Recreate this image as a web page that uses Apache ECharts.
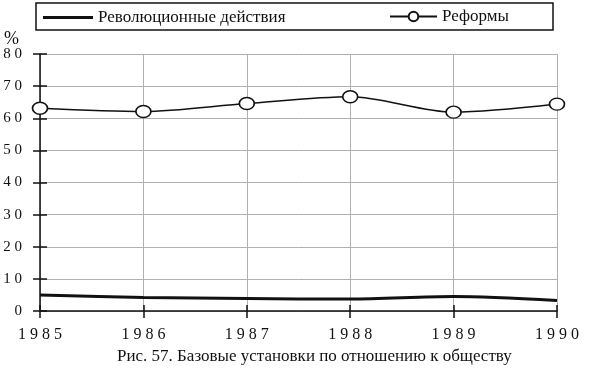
<!DOCTYPE html>
<html><head><meta charset="utf-8">
<script src="https://cdn.jsdelivr.net/npm/echarts@6/dist/echarts.min.js"></script>
<style>html,body{margin:0;padding:0;background:#fff}#c{width:590px;height:372px}</style>
</head><body><div id="c"></div>
<script>
var years = ['1985','1986','1987','1988','1989','1990'];
var revolution = [5.0, 4.2, 3.9, 3.7, 4.5, 3.3];
var reforms = [63.1, 62.1, 64.6, 66.7, 61.9, 64.4];
var seriesNames = ['Революционные действия','Реформы'];
var caption = 'Рис. 57. Базовые установки по отношению к обществу';

function spaced(s){ return String(s).split('').join(' '); }
var FONT = '"Liberation Serif", "DejaVu Serif", serif';
var INK = '#111';
var chart = echarts.init(document.getElementById('c'));
chart.setOption({
  backgroundColor:'#fff',
  animation:false,
  textStyle:{fontFamily:FONT,color:INK},
  grid:{left:40,right:33,top:54,bottom:61},
  graphic:[
    {type:'rect',shape:{x:36,y:3,width:517,height:27},style:{fill:'none',stroke:INK,lineWidth:1.5}},
    {type:'text',left:4,top:30,style:{text:'%',font:'18px '+FONT,fill:INK}},
    {type:'text',left:117,top:348,style:{text:caption,font:'17px '+FONT,fill:INK}}
  ],
  legend:[
    {data:[{name:seriesNames[0],icon:'rect'}],left:43,top:9,itemWidth:50,itemHeight:3,padding:0,
     textStyle:{fontFamily:FONT,fontSize:17,color:INK}},
    {data:[seriesNames[1]],left:389,top:8,itemWidth:47,itemHeight:12,padding:0,
     textStyle:{fontFamily:FONT,fontSize:17,color:INK}}
  ],
  xAxis:[
    {type:'category',data:years,boundaryGap:false,
     axisLine:{lineStyle:{color:INK,width:1.5}},
     axisTick:{show:true,length:7,lineStyle:{color:INK,width:1.5}},
     axisLabel:{formatter:function(v){return spaced(v);},fontSize:16,color:INK,margin:16,fontFamily:FONT},
     splitLine:{show:true,lineStyle:{color:'#b0b0b0',width:1}}},
    {type:'category',data:years,boundaryGap:false,position:'bottom',
     axisLine:{show:false},
     axisTick:{show:true,inside:true,length:6,lineStyle:{color:INK,width:1.5}},
     axisLabel:{show:false},splitLine:{show:false}}
  ],
  yAxis:[
    {type:'value',min:0,max:80,interval:10,
     axisLine:{show:true,lineStyle:{color:INK,width:1.5}},
     axisTick:{show:true,length:7,lineStyle:{color:INK,width:1.5}},
     axisLabel:{formatter:function(v){return spaced(v);},fontSize:15,color:INK,margin:18,fontFamily:FONT},
     splitLine:{show:true,lineStyle:{color:'#b0b0b0',width:1}}},
    {type:'value',min:0,max:80,interval:10,position:'left',
     axisLine:{show:false},
     axisTick:{show:true,inside:true,length:7,lineStyle:{color:INK,width:1.5}},
     axisLabel:{show:false},splitLine:{show:false}}
  ],
  series:[
    {name:seriesNames[0],type:'line',data:revolution,smooth:0.3,symbol:'none',
     lineStyle:{color:INK,width:3},itemStyle:{color:INK}},
    {name:seriesNames[1],type:'line',data:reforms,smooth:0.3,symbol:'circle',symbolSize:[15,12],
     lineStyle:{color:INK,width:1.5},itemStyle:{color:'#fff',borderColor:INK,borderWidth:1.5}}
  ]
});
</script></body></html>
